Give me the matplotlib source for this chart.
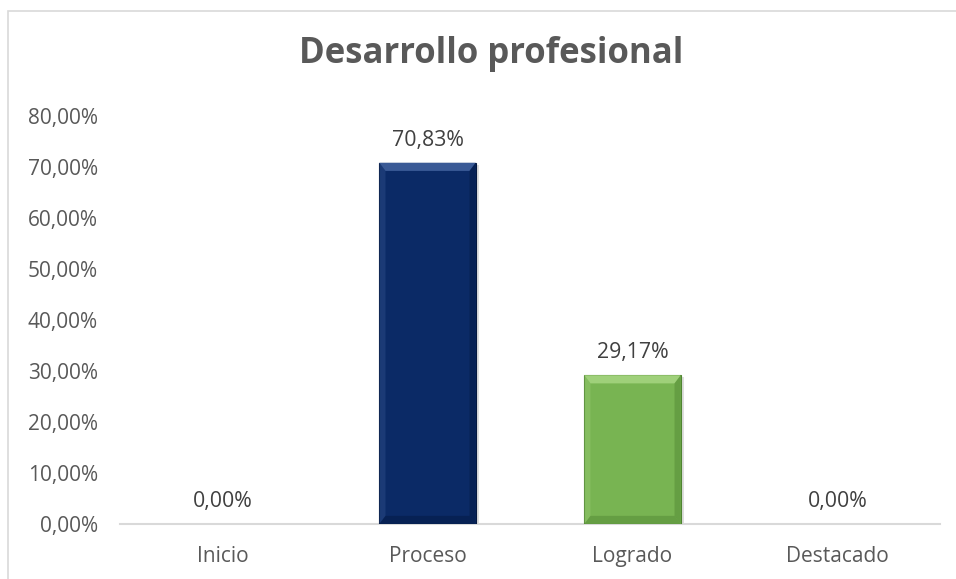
import matplotlib
matplotlib.use("Agg")
import matplotlib.pyplot as plt
from matplotlib.patches import Polygon, Rectangle

categories = ["Inicio", "Proceso", "Logrado", "Destacado"]
values = [0.0, 0.7083, 0.2917, 0.0]
labels = ["0,00%", "70,83%", "29,17%", "0,00%"]
yticks = [0.0, 0.1, 0.2, 0.3, 0.4, 0.5, 0.6, 0.7, 0.8]
ytick_labels = ["0,00%", "10,00%", "20,00%", "30,00%", "40,00%", "50,00%", "60,00%", "70,00%", "80,00%"]
title = "Desarrollo profesional"

face = ["#0B2A66", "#0B2A66", "#78B452", "#78B452"]
light = ["#3A5A96", "#3A5A96", "#9FD07A", "#9FD07A"]
dark = ["#04183F", "#04183F", "#4F8431", "#4F8431"]

plt.rcParams['font.family'] = ['Open Sans', 'DejaVu Sans']
fig = plt.figure(figsize=(9.56, 5.79), dpi=100)
fig.patch.set_facecolor("white")

# chart border (top and left visible)
fig.add_artist(Rectangle((8/956, -0.1), 1.2, (579-10.5)/579 + 0.1, transform=fig.transFigure,
                         fill=False, edgecolor="#D9D9D9", linewidth=1.2))

ax = fig.add_axes([120/956, (579-524)/579, (940-120)/956, (524-116)/579])
x = list(range(len(categories)))
w = 0.47
lws = [0.8 if v > 0 else 0 for v in values]
bars = ax.bar(x, values, width=w, color=face, edgecolor=dark, linewidth=lws, zorder=3)

# bevel effect derived from each bar
bx = 0.03
by = 0.016
for xi, v, lc, dc in zip(x, values, light, dark):
    if v <= 0:
        continue
    l, r = xi - w/2, xi + w/2
    ax.add_patch(Polygon([(l, v), (r, v), (r - bx, v - by), (l + bx, v - by)],
                         closed=True, facecolor=lc, edgecolor="none", zorder=4))
    ax.add_patch(Polygon([(l, v), (l + bx, v - by), (l + bx, by), (l, 0)],
                         closed=True, facecolor=lc, edgecolor="none", alpha=0.35, zorder=4))
    ax.add_patch(Polygon([(r, v), (r - bx, v - by), (r - bx, by), (r, 0)],
                         closed=True, facecolor=dc, edgecolor="none", alpha=0.45, zorder=4))
    ax.add_patch(Polygon([(l, 0), (r, 0), (r - bx, by), (l + bx, by)],
                         closed=True, facecolor=dc, edgecolor="none", alpha=0.45, zorder=4))
    # soft shadow
    ax.add_patch(Rectangle((r, 0), 0.018, v - 0.004, facecolor="#BFBFBF", alpha=0.5,
                           edgecolor="none", zorder=2))

for xi, v, t in zip(x, values, labels):
    ax.annotate(t, (xi, v), xytext=(0, 8.5), textcoords="offset points",
                ha="center", va="bottom", fontsize=15.3, color="#404040", zorder=5)

ax.set_xlim(-0.5, len(categories) - 0.5)
ax.set_ylim(0, 0.8)
ax.set_yticks(yticks)
ax.set_yticklabels(ytick_labels, fontsize=15, color="#595959")
ax.set_xticks(x)
ax.set_xticklabels(categories, fontsize=15, color="#595959")
ax.tick_params(axis="y", length=0, pad=16)
ax.tick_params(axis="x", length=0, pad=16)
for s in ["top", "right", "left"]:
    ax.spines[s].set_visible(False)
ax.spines["bottom"].set_color("#D9D9D9")
ax.spines["bottom"].set_linewidth(1.5)
ax.set_facecolor("none")

fig.text(491/956, 1 - 54/579, title, ha="center", va="center", fontsize=25,
         fontweight="bold", color="#595959")

fig.savefig("out.png", dpi=100)
